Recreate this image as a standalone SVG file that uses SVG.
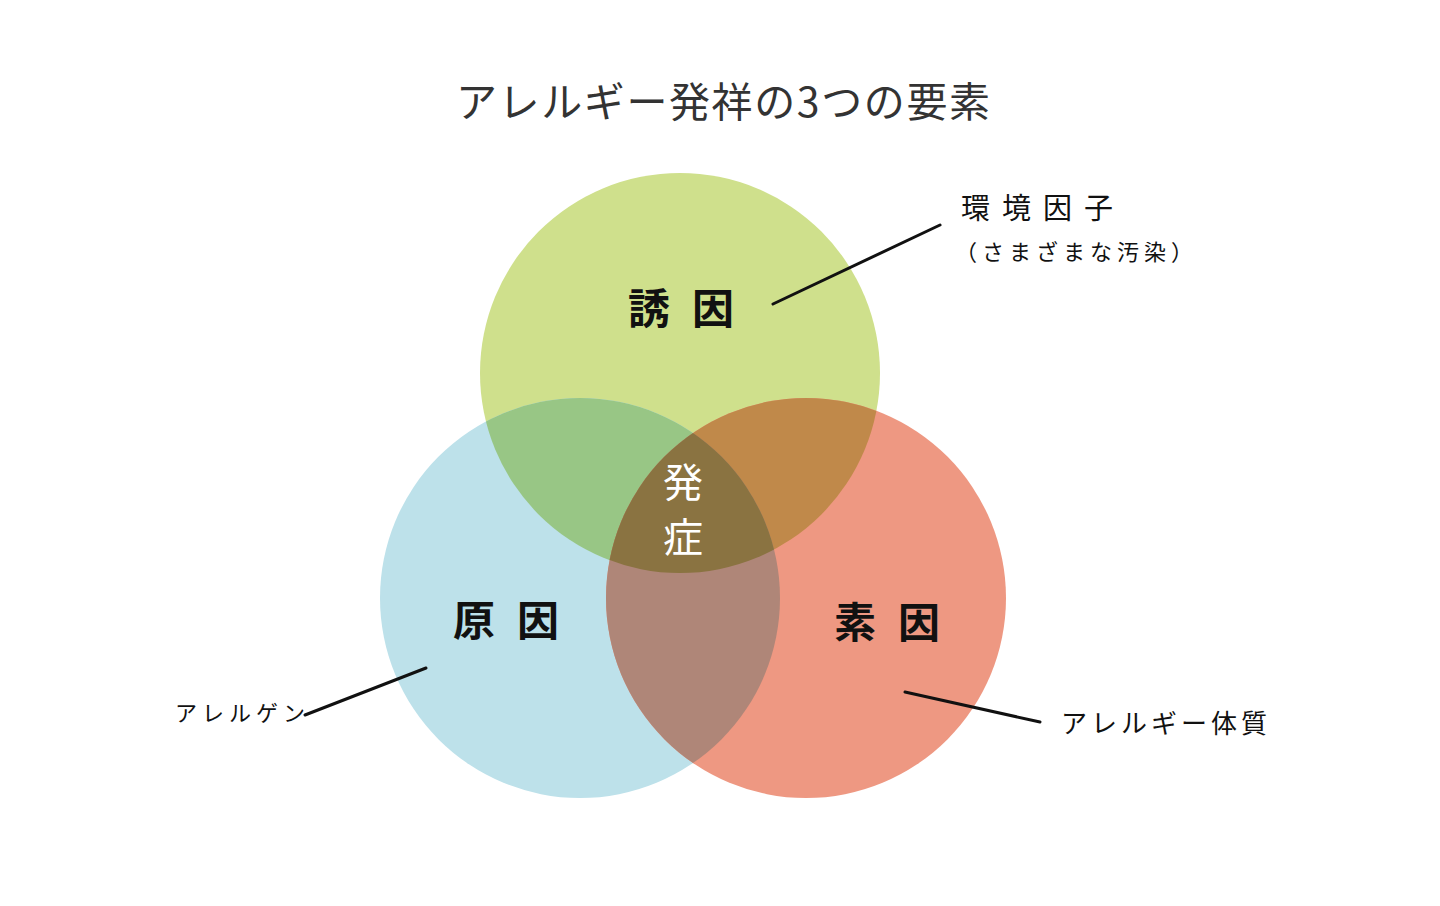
<svg xmlns="http://www.w3.org/2000/svg" width="1440" height="906" viewBox="0 0 1440 906">
<style>
text{font-family:"Noto Sans CJK JP","Noto Sans",sans-serif;}
.title{font-size:41px;fill:#333;}
.lbl{font-size:42px;font-weight:bold;fill:#111;letter-spacing:22px;}
.note{fill:#111;}
.con{stroke:#111;stroke-width:3;fill:none;stroke-linecap:round;}
</style>
<defs>
<clipPath id="cg"><circle cx="680" cy="373" r="200"/></clipPath>
<clipPath id="cb"><circle cx="580" cy="598" r="200"/></clipPath>
<clipPath id="cr"><circle cx="806" cy="598" r="200"/></clipPath>
</defs>
<rect width="1440" height="906" fill="#fff"/>
<text class="title" x="456" y="117" textLength="534" lengthAdjust="spacing">アレルギー発祥の3つの要素</text>
<g id="circle-green"><circle cx="680" cy="373" r="200" fill="#cfe08c"/></g>
<g id="circle-blue"><circle cx="580" cy="598" r="200" fill="#bde1ea"/></g>
<g id="circle-red"><circle cx="806" cy="598" r="200" fill="#ee9882"/></g>
<g id="overlaps">
<g clip-path="url(#cg)"><circle cx="580" cy="598" r="200" fill="#98c685"/><circle cx="806" cy="598" r="200" fill="#c0894a"/></g>
<g clip-path="url(#cb)"><circle cx="806" cy="598" r="200" fill="#af8678"/></g>
<g clip-path="url(#cb)"><g clip-path="url(#cr)"><circle cx="680" cy="373" r="200" fill="#8a7341"/></g></g>
</g>
<g id="connectors">
<line class="con" x1="773" y1="304" x2="940" y2="225"/>
<line class="con" x1="305" y1="715" x2="426" y2="668"/>
<line class="con" x1="905" y1="692" x2="1040" y2="722"/>
</g>
<g id="node-yuuin"><text class="lbl" x="628" y="324" letter-spacing="24">誘因</text></g>
<g id="node-genin"><text class="lbl" x="453" y="636">原因</text></g>
<g id="node-soin"><text class="lbl" x="834" y="638">素因</text></g>
<g id="node-hassho"><text x="683" y="497" text-anchor="middle" font-size="40" fill="#fff">発</text><text x="683" y="552" text-anchor="middle" font-size="40" fill="#fff">症</text></g>
<g id="note-env"><text class="note" x="961" y="219" font-size="29" letter-spacing="12">環境因子</text><text class="note" x="955" y="260" font-size="22" letter-spacing="5">（さまざまな汚染）</text></g>
<g id="note-allergen"><text class="note" x="175" y="721" font-size="22" letter-spacing="5">アレルゲン</text></g>
<g id="note-taishitsu"><text class="note" x="1061" y="733" font-size="26" letter-spacing="4">アレルギー体質</text></g>
</svg>
